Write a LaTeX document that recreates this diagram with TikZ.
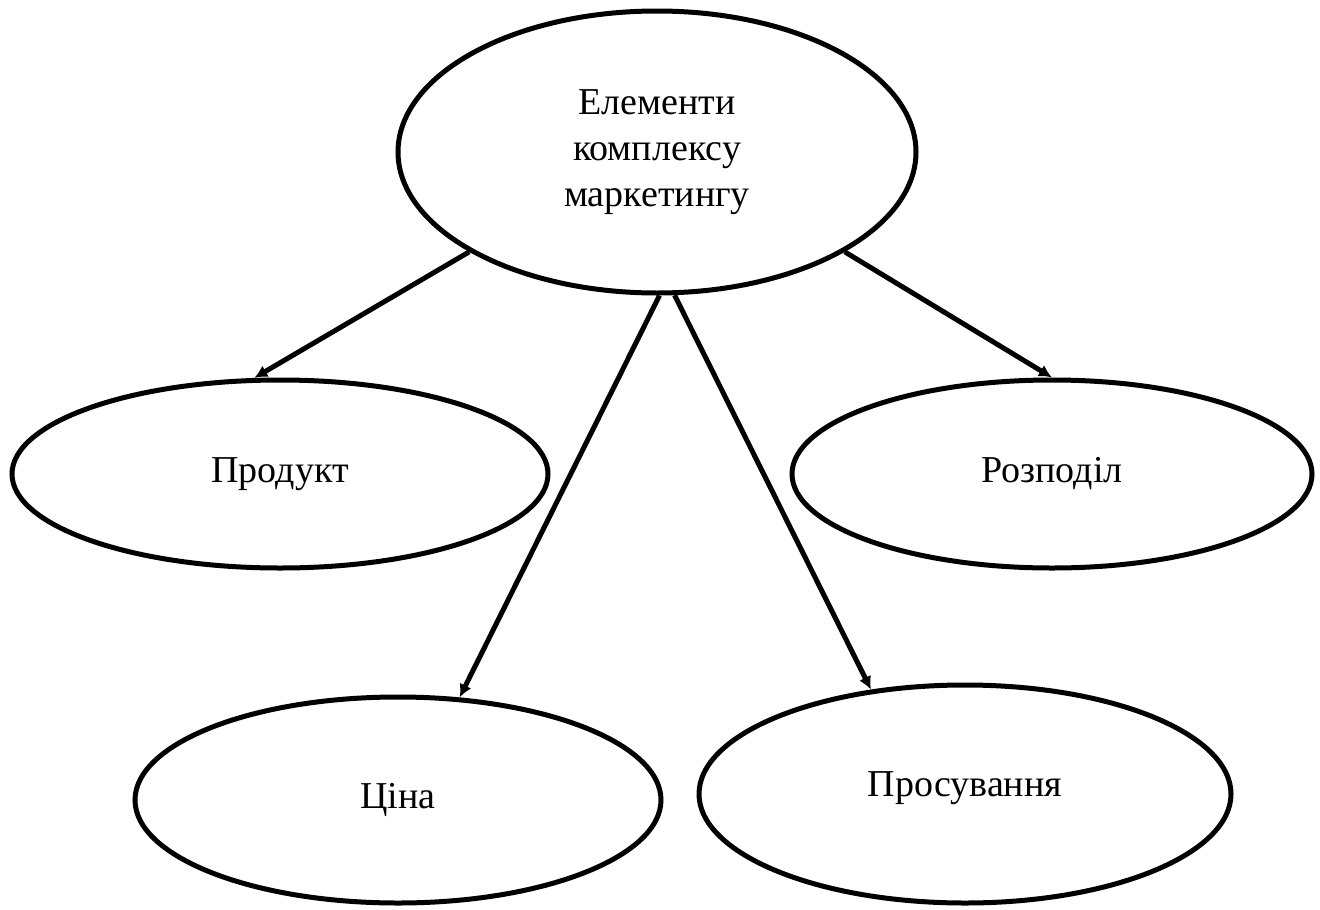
\documentclass[tikz,border=0pt]{standalone}
\usepackage{fontspec}
\setmainfont{Liberation Serif}
\usetikzlibrary{shapes.geometric,arrows.meta}
\begin{document}
\begin{tikzpicture}[x=1pt,y=-1pt,
  oval/.style={draw=black,line width=5pt,ellipse,inner sep=0pt,align=center,
    font=\fontsize{38}{46}\selectfont},
  conn/.style={line width=5pt,-{Latex[length=13pt,width=13pt]}}]
\useasboundingbox (0,0) rectangle (1320,910);
\node[oval,minimum width=518,minimum height=282] (top) at (657,152)
  {Елементи\\комплексу\\маркетингу};
\node[oval,minimum width=536,minimum height=188] (prod) at (280,474) {Продукт};
\node[oval,minimum width=520,minimum height=188] (rozp) at (1052,474) {Розподіл};
\node[oval,minimum width=526,minimum height=206] (tsina) at (398,800) {Ціна};
\node[oval,minimum width=532,minimum height=218,text depth=20pt] (pros) at (965,794) {Просування};
\draw[conn] (top.208.9) -- (prod.105);
\draw[conn] (top.332) -- (rozp.90);
\draw[conn] (top.271) -- (tsina.59);
\draw[conn] (top.277) -- (pros.132.6);
\end{tikzpicture}
\end{document}
